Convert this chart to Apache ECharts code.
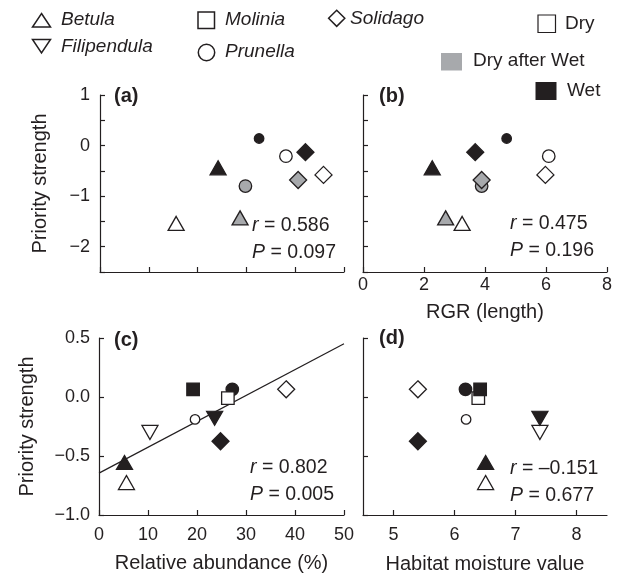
<!DOCTYPE html>
<html>
<head>
<meta charset="utf-8">
<script src="https://cdn.jsdelivr.net/npm/echarts@6/dist/echarts.min.js"></script>
<style>
  html, body { margin: 0; padding: 0; background: #fff; }
  #chart { width: 620px; height: 576px; }
</style>
</head>
<body>
<div id="chart"></div>
<script>
// 物种与处理
const species = ['Betula', 'Filipendula', 'Molinia', 'Prunella', 'Solidago']
const treatments = ['Dry', 'Dry after Wet', 'Wet']

// (a) 无刻度标签的 x 轴 vs Priority strength: [物种, 处理, x, y]
const panelA = [
  ['Betula', 'Dry', 15.6, -1.54],
  ['Betula', 'Dry after Wet', 28.7, -1.43],
  ['Betula', 'Wet', 24.2, -0.44],
  ['Prunella', 'Dry', 38.1, -0.21],
  ['Prunella', 'Dry after Wet', 29.8, -0.8],
  ['Prunella', 'Wet', 32.6, 0.14],
  ['Solidago', 'Dry', 45.8, -0.58],
  ['Solidago', 'Dry after Wet', 40.6, -0.68],
  ['Solidago', 'Wet', 42.1, -0.13]
]

// (b) RGR (length)
const panelB = [
  ['Betula', 'Dry', 3.25, -1.54],
  ['Betula', 'Dry after Wet', 2.71, -1.43],
  ['Betula', 'Wet', 2.27, -0.44],
  ['Prunella', 'Dry', 6.09, -0.21],
  ['Prunella', 'Dry after Wet', 3.89, -0.8],
  ['Prunella', 'Wet', 4.71, 0.14],
  ['Solidago', 'Dry', 5.98, -0.58],
  ['Solidago', 'Dry after Wet', 3.89, -0.68],
  ['Solidago', 'Wet', 3.68, -0.13]
]

// (c) Relative abundance (%)
const panelC = [
  ['Betula', 'Dry', 5.6, -0.725],
  ['Betula', 'Wet', 5.2, -0.555],
  ['Filipendula', 'Dry', 10.4, -0.3],
  ['Filipendula', 'Wet', 23.6, -0.18],
  ['Prunella', 'Dry', 19.6, -0.19],
  ['Prunella', 'Wet', 27.2, 0.065],
  ['Molinia', 'Wet', 19.2, 0.065],
  ['Molinia', 'Dry', 26.3, -0.01],
  ['Solidago', 'Dry', 38.2, 0.065],
  ['Solidago', 'Wet', 24.8, -0.375]
]

// (d) Habitat moisture value
const panelD = [
  ['Betula', 'Dry', 6.51, -0.725],
  ['Betula', 'Wet', 6.51, -0.555],
  ['Filipendula', 'Dry', 7.4, -0.3],
  ['Filipendula', 'Wet', 7.4, -0.18],
  ['Prunella', 'Dry', 6.19, -0.19],
  ['Molinia', 'Dry', 6.39, -0.01],
  ['Molinia', 'Wet', 6.42, 0.065],
  ['Prunella', 'Wet', 6.18, 0.065],
  ['Solidago', 'Dry', 5.4, 0.065],
  ['Solidago', 'Wet', 5.4, -0.375]
]

// (c) 回归线
const fitC = [[0, -0.645], [50, 0.452]]

// 统计量 [r, P]
const statsA = ['0.586', '0.097']
const statsB = ['0.475', '0.196']
const statsC = ['0.802', '0.005']
const statsD = ['\u20130.151', '0.677']

// 刻度标签
const yLabelsTop = [-2, -1, 0, 1]
const xLabelsB = [0, 2, 4, 6, 8]
const xLabelsC = [0, 10, 20, 30, 40, 50]
const xLabelsD = [5, 6, 7, 8]

const INK = '#231f20'
const FONT = '"Liberation Sans", Arial, Helvetica, sans-serif'
const fillOf = { 'Dry': '#ffffff', 'Dry after Wet': '#a7a9ac', 'Wet': INK }
const shapeOf = { Betula: 'triangle', Filipendula: 'triangle', Molinia: 'rect', Prunella: 'circle', Solidago: 'diamond' }
const sizeOf = { triangle: [16, 14], rect: 12.5, circle: 12.5, diamond: 17 }
// 小圆点（原图中较小的圆）
const smallMark = { 0: 'Prunella|Wet', 1: 'Prunella|Wet', 2: 'Prunella|Dry', 3: 'Prunella|Dry' }

function toItems (rows, panel) {
  return rows.map(([sp, tr, x, y]) => {
    const shape = shapeOf[sp]
    return {
      value: [x, y],
      symbol: shape,
      symbolRotate: sp === 'Filipendula' ? 180 : 0,
      symbolSize: smallMark[panel] === sp + '|' + tr ? 9.5 : sizeOf[shape],
      itemStyle: { color: fillOf[tr], borderColor: INK, borderWidth: 1.3, opacity: 1 }
    }
  })
}

const myChart = echarts.init(document.getElementById('chart'))

const axisLine = { onZero: false, lineStyle: { color: INK, width: 1.2 } }
const axisTick = { inside: true, length: 5, lineStyle: { color: INK, width: 1.2 } }
const labelStyle = { color: INK, fontSize: 18, fontFamily: FONT }
const nameStyle = { color: INK, fontSize: 20, fontFamily: FONT }
const minus = v => (v < 0 ? '\u2212' : '') + Math.abs(v)

function xAxis (gridIndex, min, max, interval, extra) {
  return Object.assign({
    type: 'value', gridIndex, min, max, interval,
    splitLine: { show: false }, axisLine, axisTick,
    axisLabel: Object.assign({}, labelStyle, { show: false })
  }, extra)
}
function yAxis (gridIndex, min, max, extra) {
  return Object.assign({
    type: 'value', gridIndex, min, max, interval: 0.5,
    splitLine: { show: false }, axisLine, axisTick,
    axisLabel: Object.assign({}, labelStyle, { show: false })
  }, extra)
}

function statText (left, top, stats) {
  const rich = {
    i: { fontStyle: 'italic', fontSize: 19.5, fontFamily: FONT, fill: INK }
  }
  const base = { fontSize: 19.5, fontFamily: FONT, fill: INK, verticalAlign: 'middle', rich }
  return [
    { type: 'text', x: left, y: top, style: Object.assign({ text: '{i|r} = ' + stats[0] }, base) },
    { type: 'text', x: left, y: top + 27, style: Object.assign({ text: '{i|P} = ' + stats[1] }, base) }
  ]
}
function panelLabel (x, y, t) {
  return { type: 'text', x, y, style: { text: t, fontSize: 20, fontWeight: 'bold', fontFamily: FONT, fill: INK, verticalAlign: 'middle' } }
}
function legendText (x, y, t, italic) {
  return { type: 'text', x, y, style: { text: t, fontSize: 19, fontStyle: italic ? 'italic' : 'normal', fontFamily: FONT, fill: INK, verticalAlign: 'middle' } }
}
const legendStroke = { stroke: INK, lineWidth: 1.5, fill: '#fff' }

const option = {
  animation: false,
  grid: [
    { left: 100, top: 95, width: 244, height: 177 },
    { left: 363, top: 95, width: 244, height: 177 },
    { left: 99, top: 338, width: 245, height: 177 },
    { left: 363, top: 338, width: 244, height: 177 }
  ],
  xAxis: [
    xAxis(0, 0, 50, 10),
    xAxis(1, 0, 8, 2, {
      name: 'RGR (length)', nameLocation: 'middle', nameGap: 30, nameTextStyle: nameStyle,
      axisLabel: Object.assign({}, labelStyle, { margin: 4, customValues: xLabelsB })
    }),
    xAxis(2, 0, 50, 10, {
      name: 'Relative abundance (%)', nameLocation: 'middle', nameGap: 38, nameTextStyle: nameStyle,
      axisLabel: Object.assign({}, labelStyle, { margin: 11, customValues: xLabelsC })
    }),
    xAxis(3, 4.5, 8.5, 0.5, {
      name: 'Habitat moisture value', nameLocation: 'middle', nameGap: 39, nameTextStyle: nameStyle,
      axisTick: Object.assign({}, axisTick, { customValues: xLabelsD }),
      axisLabel: Object.assign({}, labelStyle, { margin: 11, customValues: xLabelsD })
    })
  ],
  yAxis: [
    yAxis(0, -2.5, 1, {
      name: 'Priority strength', nameLocation: 'middle', nameGap: 50, nameTextStyle: nameStyle,
      axisLabel: Object.assign({}, labelStyle, { margin: 10, customValues: yLabelsTop, formatter: minus })
    }),
    yAxis(1, -2.5, 1),
    yAxis(2, -1, 0.5, {
      name: 'Priority strength', nameLocation: 'middle', nameGap: 62, nameTextStyle: nameStyle,
      axisLabel: Object.assign({}, labelStyle, { margin: 9, formatter: v => (v < 0 ? '\u2212' : '') + Math.abs(v).toFixed(1) })
    }),
    yAxis(3, -1, 0.5)
  ],
  series: [
    { type: 'scatter', xAxisIndex: 0, yAxisIndex: 0, z: 3, data: toItems(panelA, 0) },
    { type: 'scatter', xAxisIndex: 1, yAxisIndex: 1, z: 3, data: toItems(panelB, 1) },
    {
      type: 'line', xAxisIndex: 2, yAxisIndex: 2, z: 2, data: fitC,
      symbol: 'none', lineStyle: { color: INK, width: 1.2 }
    },
    { type: 'scatter', xAxisIndex: 2, yAxisIndex: 2, z: 3, data: toItems(panelC, 2) },
    { type: 'scatter', xAxisIndex: 3, yAxisIndex: 3, z: 3, data: toItems(panelD, 3) }
  ],
  graphic: [
    // 图例：物种
    { type: 'polygon', shape: { points: [[41.5, 13.5], [50.5, 27], [32.5, 27]] }, style: legendStroke },
    legendText(61, 20, species[0], true),
    { type: 'polygon', shape: { points: [[32.5, 39.5], [50.5, 39.5], [41.5, 53]] }, style: legendStroke },
    legendText(61, 47, species[1], true),
    { type: 'rect', shape: { x: 198, y: 12, width: 16.5, height: 16.5 }, style: legendStroke },
    legendText(225, 20, species[2], true),
    { type: 'circle', shape: { cx: 206.5, cy: 52.5, r: 8.2 }, style: legendStroke },
    legendText(225, 51.5, species[3], true),
    { type: 'polygon', shape: { points: [[336.7, 10.2], [344.8, 18.3], [336.7, 26.4], [328.6, 18.3]] }, style: legendStroke },
    legendText(350, 18.5, species[4], true),
    // 图例：处理
    { type: 'rect', shape: { x: 538, y: 15, width: 17.5, height: 17.5 }, style: { stroke: INK, lineWidth: 1.2, fill: fillOf['Dry'] } },
    legendText(565, 23.5, treatments[0], false),
    { type: 'rect', shape: { x: 441, y: 53, width: 21, height: 17.5 }, style: { fill: fillOf['Dry after Wet'] } },
    legendText(473, 61, treatments[1], false),
    { type: 'rect', shape: { x: 535.5, y: 82, width: 21, height: 18 }, style: { fill: fillOf['Wet'] } },
    legendText(567, 91, treatments[2], false),
    // 面板标签
    panelLabel(114, 96, '(a)'),
    panelLabel(379, 96, '(b)'),
    panelLabel(114, 340, '(c)'),
    panelLabel(379, 338, '(d)'),
    // 统计量
    ...statText(252, 225.5, statsA),
    ...statText(510, 224, statsB),
    ...statText(250, 468, statsC),
    ...statText(510, 468.3, statsD)
  ]
}

myChart.setOption(option)

window.addEventListener('resize', () => {
  myChart.resize()
})
</script>
</body>
</html>
